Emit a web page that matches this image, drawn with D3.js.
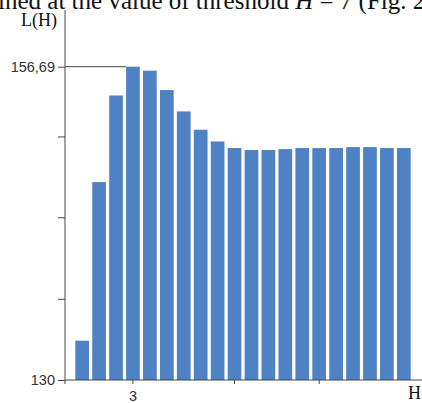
<!DOCTYPE html>
<html>
<head>
<meta charset="utf-8">
<script src="https://cdn.jsdelivr.net/npm/d3@7"></script>
<style>
  body { margin: 0; background: #fff; }
  svg { display: block; }
</style>
</head>
<body>
<div id="root"></div>
<script>
// H values and L(H)
const hValues = d3.range(0, 20)
const lValues = [
  133.35, 146.86, 154.24, 156.69, 156.35, 154.70, 152.88, 151.32, 150.32, 149.76,
  149.59, 149.59, 149.67, 149.76, 149.76, 149.76, 149.84, 149.84, 149.76, 149.76
]
const yTicks = [130, 136.92, 143.86, 150.75, 156.69]
const yTickLabels = { 130: '130', 156.69: '156,69' }
const xTicks = [3, 9, 14]
const xTickLabels = { 3: '3' }

const svg = d3.select('#root').append('svg')
  .attr('width', 422)
  .attr('height', 403)

const x = d3.scaleBand()
  .domain(hValues)
  .range([73.7, 412.3])
  .paddingInner(0.19)
  .paddingOuter(0.095)

const y = d3.scaleLinear()
  .domain([130, 156.69])
  .range([380, 66.7])

// cut-off line of body text above the figure
svg.append('text')
  .attr('x', -2)
  .attr('y', 9)
  .style('font-family', '"Liberation Serif", serif')
  .style('font-size', '25px')
  .style('fill', '#111')
  .html('ined at the value of threshold <tspan font-style="italic">H</tspan> = 7 (Fig. 2')

// bars
svg.append('g')
  .selectAll('rect')
  .data(hValues)
  .join('rect')
  .attr('x', d => x(d))
  .attr('y', d => y(lValues[d]))
  .attr('width', x.bandwidth())
  .attr('height', d => y(130) - y(lValues[d]))
  .attr('fill', '#4f82c5')

// y axis
const yAxis = svg.append('g')
  .attr('transform', 'translate(65,0)')
  .call(d3.axisLeft(y).tickValues(yTicks).tickSize(7).tickSizeOuter(0)
    .tickFormat(d => yTickLabels[d] || ''))
yAxis.select('.domain').remove()
yAxis.selectAll('line').attr('stroke', '#444')
yAxis.selectAll('text')
  .attr('x', -10)
  .style('font-family', '"Liberation Sans", sans-serif')
  .style('font-size', '14.5px')
  .style('fill', '#333')

svg.append('line')
  .attr('x1', 65).attr('x2', 65)
  .attr('y1', 10).attr('y2', 384)
  .attr('stroke', '#444')

// guide line at the peak
const peak = d3.max(lValues)
svg.append('line')
  .attr('x1', 65).attr('x2', x(lValues.indexOf(peak)))
  .attr('y1', y(peak)).attr('y2', y(peak))
  .attr('stroke', '#444')

// x axis
const xAxis = svg.append('g')
  .attr('transform', `translate(0,${y(130)})`)
  .call(d3.axisBottom(x).tickValues(xTicks).tickSize(4).tickSizeOuter(0)
    .tickFormat(d => xTickLabels[d] || ''))
xAxis.select('.domain').remove()
xAxis.selectAll('line').attr('stroke', '#444')
xAxis.selectAll('text')
  .attr('y', 11)
  .style('font-family', '"Liberation Sans", sans-serif')
  .style('font-size', '14.5px')
  .style('fill', '#333')

svg.append('line')
  .attr('x1', 65).attr('x2', 422)
  .attr('y1', y(130)).attr('y2', y(130))
  .attr('stroke', '#444')

// axis names
svg.append('text')
  .attr('x', 57).attr('y', 26)
  .attr('text-anchor', 'end')
  .style('font-family', '"Liberation Serif", serif')
  .style('font-size', '18px')
  .style('fill', '#111')
  .text('L(H)')

svg.append('text')
  .attr('x', 421).attr('y', 399)
  .attr('text-anchor', 'end')
  .style('font-family', '"Liberation Serif", serif')
  .style('font-size', '18px')
  .style('fill', '#111')
  .text('H')
</script>
</body>
</html>
